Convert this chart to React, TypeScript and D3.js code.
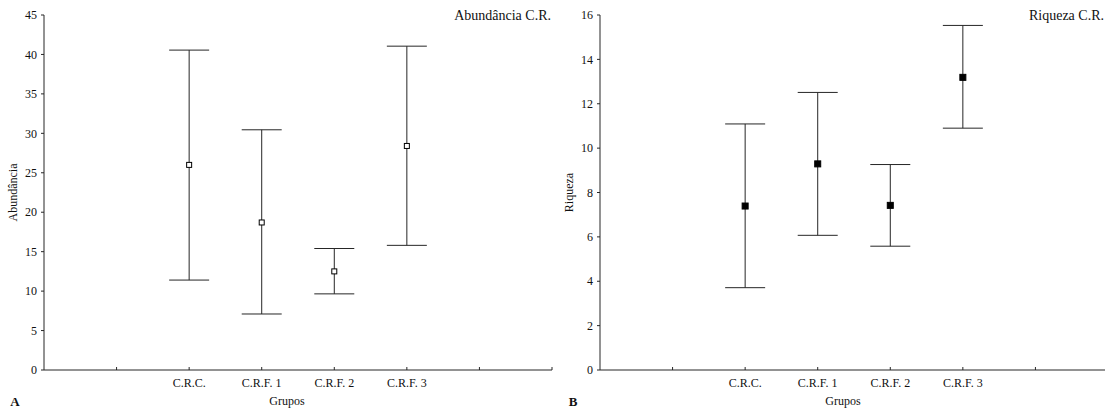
import React from "react";
import * as d3 from "d3";

const groups = ["C.R.C.", "C.R.F. 1", "C.R.F. 2", "C.R.F. 3"];
const groupPos = [2, 3, 4, 5];
const xTicks = [1, 2, 3, 4, 5, 6, 7];

const abundMean = [26.0, 18.7, 12.5, 28.4];
const abundLow = [11.4, 7.1, 9.65, 15.8];
const abundHigh = [40.55, 30.45, 15.4, 41.05];
const abundTicks = [0, 5, 10, 15, 20, 25, 30, 35, 40, 45];

const riqMean = [7.39, 9.29, 7.42, 13.19];
const riqLow = [3.71, 6.07, 5.58, 10.9];
const riqHigh = [11.09, 12.51, 9.26, 15.53];
const riqTicks = [0, 2, 4, 6, 8, 10, 12, 14, 16];

const W = 1105;
const H = 410;
const FONT = "Liberation Serif, Times New Roman, DejaVu Serif, serif";
const STROKE = "#262626";

type PanelProps = {
  x0: number;
  yMax: number;
  ticks: number[];
  mean: number[];
  low: number[];
  high: number[];
  yLabel: string;
  title: string;
  titleX: number;
  letter: string;
  letterX: number;
  filled: boolean;
};

function Panel(p: PanelProps) {
  const x = d3.scaleLinear().domain([0, 7]).range([p.x0, p.x0 + 508]);
  const y = d3.scaleLinear().domain([0, p.yMax]).range([370, 15]);
  const cap = 20;
  const m = p.filled ? 3 : 2.5;
  return (
    <g style={{ fontFamily: FONT }} fill="#111">
      <line x1={p.x0} x2={p.x0} y1={y(0)} y2={y(p.yMax)} stroke={STROKE} />
      {p.ticks.map((t) => (
        <g key={"y" + t}>
          <line x1={p.x0 - 3} x2={p.x0} y1={y(t)} y2={y(t)} stroke={STROKE} />
          <text x={p.x0 - 7} y={y(t)} dy="0.35em" textAnchor="end" fontSize={12}>
            {t}
          </text>
        </g>
      ))}
      <line x1={p.x0} x2={x(7)} y1={y(0)} y2={y(0)} stroke={STROKE} />
      {xTicks.map((t) => (
        <line key={"x" + t} x1={x(t)} x2={x(t)} y1={y(0)} y2={y(0) - 3} stroke={STROKE} />
      ))}
      {groups.map((g, i) => (
        <text key={g} x={x(groupPos[i])} y={387} textAnchor="middle" fontSize={12}>
          {g}
        </text>
      ))}
      <text x={p.x0 + 243} y={405} textAnchor="middle" fontSize={12}>
        Grupos
      </text>
      <text
        transform={`translate(${p.x0 - 27},${(y(0) + y(p.yMax)) / 2}) rotate(-90)`}
        textAnchor="middle"
        fontSize={12}
      >
        {p.yLabel}
      </text>
      <text x={p.titleX} y={20} textAnchor="end" fontSize={14}>
        {p.title}
      </text>
      <text x={p.letterX} y={406} textAnchor="middle" fontSize={13} fontWeight="bold">
        {p.letter}
      </text>
      {groups.map((g, i) => {
        const cx = x(groupPos[i]);
        return (
          <g key={"e" + g}>
            <line x1={cx} x2={cx} y1={y(p.low[i])} y2={y(p.high[i])} stroke={STROKE} />
            <line x1={cx - cap} x2={cx + cap} y1={y(p.low[i])} y2={y(p.low[i])} stroke={STROKE} />
            <line x1={cx - cap} x2={cx + cap} y1={y(p.high[i])} y2={y(p.high[i])} stroke={STROKE} />
            <rect
              x={cx - m}
              y={y(p.mean[i]) - m}
              width={2 * m}
              height={2 * m}
              fill={p.filled ? "#000" : "#fff"}
              stroke="#000"
              strokeWidth={1}
            />
          </g>
        );
      })}
    </g>
  );
}

export default function App() {
  return (
    <svg width={W} height={H} style={{ display: "block", position: "absolute", left: 0, top: 0 }}>
      <rect width={W} height={H} fill="#fff" />
      <Panel
        x0={44}
        yMax={45}
        ticks={abundTicks}
        mean={abundMean}
        low={abundLow}
        high={abundHigh}
        yLabel="Abundância"
        title="Abundância C.R."
        titleX={551}
        letter="A"
        letterX={15}
        filled={false}
      />
      <Panel
        x0={600}
        yMax={16}
        ticks={riqTicks}
        mean={riqMean}
        low={riqLow}
        high={riqHigh}
        yLabel="Riqueza"
        title="Riqueza C.R."
        titleX={1104}
        letter="B"
        letterX={573}
        filled={true}
      />
    </svg>
  );
}
